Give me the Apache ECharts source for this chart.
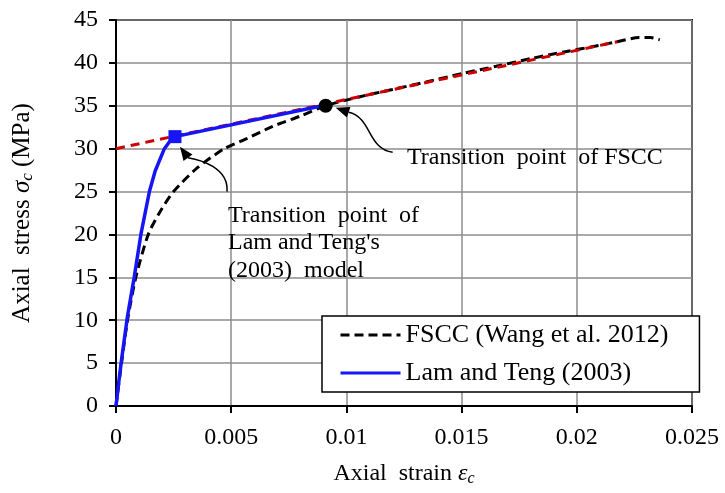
<!DOCTYPE html>
<html>
<head>
<meta charset="utf-8">
<script src="https://cdn.jsdelivr.net/npm/echarts@6/dist/echarts.min.js"></script>
<style>
  html, body { margin: 0; padding: 0; background: #fff; }
  #chart { width: 725px; height: 493px; }
</style>
</head>
<body>
<div id="chart"></div>
<script>
// Axis ticks
const xTicks = [0, 0.005, 0.01, 0.015, 0.02, 0.025];
const yTicks = [0, 5, 10, 15, 20, 25, 30, 35, 40, 45];

// FSCC stress-strain curve (Wang et al. 2012)
const fsccStrain = [0, 0.00024, 0.0005, 0.00086, 0.0014, 0.0019, 0.0025, 0.0035, 0.0047, 0.0057, 0.0068, 0.008, 0.0091,
  0.0105, 0.012, 0.0135, 0.015, 0.0165, 0.018, 0.0195, 0.021, 0.0218, 0.0227, 0.0232, 0.0236];
const fsccStress = [0, 5, 10, 15, 20, 22.6, 25, 27.7, 30, 31.2, 32.6, 33.8, 35.0,
  36.0, 36.9, 37.8, 38.75, 39.6, 40.5, 41.3, 42.05, 42.5, 42.95, 42.95, 42.7];

// Lam and Teng (2003) model
const ltStrain = [0, 0.00012, 0.00025, 0.0005, 0.00079, 0.00108, 0.00145, 0.0017, 0.0021, 0.0024, 0.00256, 0.0091];
const ltStress = [0, 2.8, 5.6, 10.5, 15, 20, 25, 27.4, 30, 31.1, 31.4, 35.1];

// Linear second branch extended back to the stress axis
const branchStrain = [0, 0.02176];
const branchStress = [30, 42.47];

// Transition points
const ltTransition = [0.00256, 31.4];
const fsccTransition = [0.0091, 35.0];

const legendNames = ['FSCC (Wang et al. 2012)', 'Lam and Teng (2003)'];

const FONT = 'Liberation Serif';
const zip = (xs, ys) => xs.map((x, i) => [x, ys[i]]);

const chart = echarts.init(document.getElementById('chart'), null, { renderer: 'canvas' });

const axisCommon = {
  type: 'value',
  axisLine: { show: true, lineStyle: { color: '#000', width: 2 } },
  axisTick: { show: true, inside: false, length: 7, lineStyle: { color: '#000', width: 2 } },
  splitLine: { show: true, lineStyle: { color: '#8c8c8c', width: 1.5 } },
  axisLabel: { fontFamily: FONT, fontSize: 24, color: '#000' }
};

const hidden = { color: 'rgba(0,0,0,0)', borderWidth: 0 };

chart.setOption({
  backgroundColor: '#fff',
  animation: false,
  grid: { left: 116, right: 33, top: 20, bottom: 87, show: true, borderColor: '#000', borderWidth: 2, backgroundColor: 'transparent' },
  xAxis: Object.assign({}, axisCommon, {
    min: xTicks[0], max: xTicks[xTicks.length - 1], interval: xTicks[1] - xTicks[0],
    axisLabel: Object.assign({}, axisCommon.axisLabel, { margin: 20 }),
    name: '{t|Axial  strain }{i|ε}{s|c}',
    nameLocation: 'middle', nameGap: 55,
    nameTextStyle: {
      rich: {
        t: { fontFamily: FONT, fontSize: 24, color: '#000' },
        i: { fontFamily: FONT, fontSize: 24, fontStyle: 'italic', color: '#000' },
        s: { fontFamily: FONT, fontSize: 16, fontStyle: 'italic', color: '#000', verticalAlign: 'bottom', padding: [10, 0, 0, 0] }
      }
    }
  }),
  yAxis: Object.assign({}, axisCommon, {
    min: yTicks[0], max: yTicks[yTicks.length - 1], interval: yTicks[1] - yTicks[0],
    axisLabel: Object.assign({}, axisCommon.axisLabel, { margin: 18 }),
    name: '{t|Axial  stress }{i|σ}{s|c}{t| (MPa)}',
    nameLocation: 'middle', nameGap: 80, nameRotate: 90,
    nameTextStyle: {
      rich: {
        t: { fontFamily: FONT, fontSize: 25, color: '#000' },
        i: { fontFamily: FONT, fontSize: 25, fontStyle: 'italic', color: '#000' },
        s: { fontFamily: FONT, fontSize: 17, fontStyle: 'italic', color: '#000', verticalAlign: 'bottom', padding: [10, 0, 0, 0] }
      }
    }
  }),
  legend: {
    data: legendNames,
    orient: 'vertical',
    left: 322, top: 316,
    itemWidth: 60, itemHeight: 14, itemGap: 12,
    padding: [6, 31, 6, 17],
    backgroundColor: '#fff',
    borderColor: '#000', borderWidth: 1.5, borderRadius: 0,
    itemStyle: { opacity: 0 },
    lineStyle: { width: 3 },
    textStyle: { fontFamily: FONT, fontSize: 26, color: '#000' }
  },
  series: [
    {
      name: legendNames[0], type: 'line', data: zip(fsccStrain, fsccStress),
      showSymbol: false, symbol: 'none', smooth: 0.25,
      itemStyle: hidden,
      lineStyle: { color: '#000', width: 3, type: [9, 5] }, z: 2
    },
    {
      name: 'branch', type: 'line', data: zip(branchStrain, branchStress),
      showSymbol: false, symbol: 'none',
      lineStyle: { color: '#cc0000', width: 3, type: [9, 6] }, z: 3
    },
    {
      name: legendNames[1], type: 'line', data: zip(ltStrain, ltStress),
      showSymbol: false, symbol: 'none',
      itemStyle: hidden,
      lineStyle: { color: '#1515f5', width: 3.5 }, z: 4
    },
    {
      name: 'ltPoint', type: 'scatter', data: [ltTransition],
      symbol: 'rect', symbolSize: 13, itemStyle: { color: '#1515f5', opacity: 1 }, z: 5
    },
    {
      name: 'fsccPoint', type: 'scatter', data: [fsccTransition],
      symbol: 'circle', symbolSize: 14, itemStyle: { color: '#000', opacity: 1 }, z: 5
    }
  ]
});

// Annotations: curved arrows pointing at the two transition points
function annotations() {
  const toPx = (p) => chart.convertToPixel({ gridIndex: 0 }, p);
  const c = toPx(fsccTransition);
  const s = toPx(ltTransition);

  function arrow(anchor, start, cp1, cp2, base, tip) {
    const a = (o) => [anchor[0] + o[0], anchor[1] + o[1]];
    const b = a(base), t = a(tip);
    const dx = t[0] - b[0], dy = t[1] - b[1];
    const len = Math.hypot(dx, dy);
    const nx = -dy / len * 5.5, ny = dx / len * 5.5;
    return [
      {
        type: 'bezierCurve', silent: true,
        shape: { x1: a(start)[0], y1: a(start)[1], cpx1: a(cp1)[0], cpy1: a(cp1)[1], cpx2: a(cp2)[0], cpy2: a(cp2)[1], x2: b[0], y2: b[1] },
        style: { stroke: '#000', lineWidth: 1.5, fill: null }, z: 10
      },
      {
        type: 'polygon', silent: true,
        shape: { points: [t, [b[0] + nx, b[1] + ny], [b[0] - nx, b[1] - ny]] },
        style: { fill: '#000' }, z: 10
      }
    ];
  }

  const fsccLabel = toPx([0.01263, 28.9]);
  const ltLabel = toPx([0.00486, 23.8]);

  chart.setOption({
    graphic: [].concat(
      arrow(c, [67, 46.5], [42, 43.5], [46, 11.5], [23, 6.5], [10, 2]),
      arrow(s, [52, 55], [54, 31], [25, 23], [13, 21], [5, 10]),
      [
        {
          type: 'text', silent: true, z: 10,
          style: { x: fsccLabel[0], y: fsccLabel[1], text: 'Transition  point  of FSCC', font: '24px "Liberation Serif"', fill: '#000', verticalAlign: 'middle', align: 'left' }
        },
        {
          type: 'text', silent: true, z: 10,
          style: { x: ltLabel[0], y: ltLabel[1], text: 'Transition  point  of\nLam and Teng\'s\n(2003)  model', font: '24px "Liberation Serif"', lineHeight: 27.5, fill: '#000', verticalAlign: 'top', align: 'left' }
        }
      ]
    )
  });
}
annotations();
</script>
</body>
</html>
